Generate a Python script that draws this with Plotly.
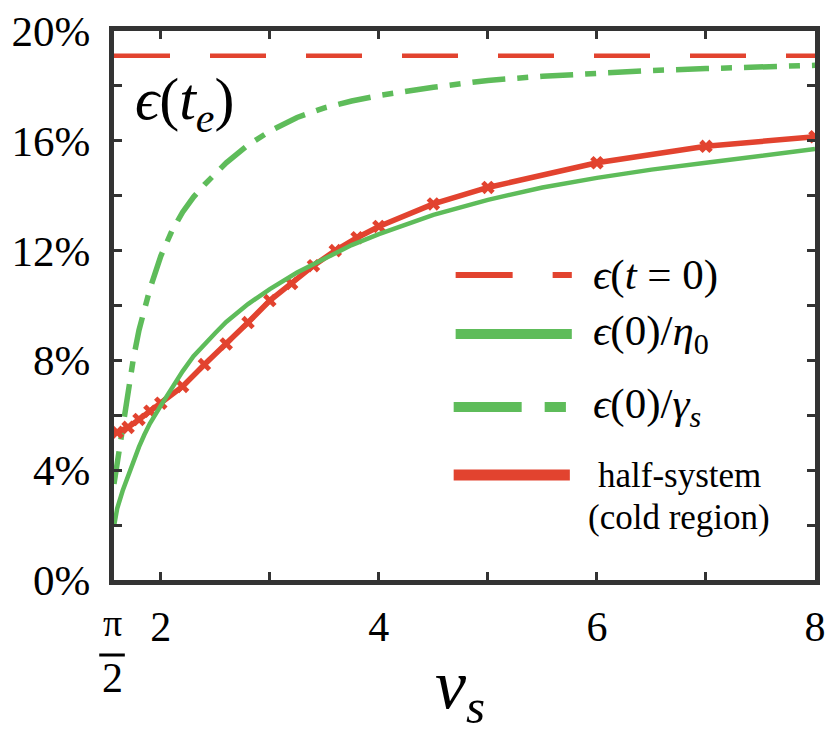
import math
import plotly.graph_objects as go

# ---------------- data ----------------
V_MIN = math.pi / 2
V_MAX = 8.0

eps_t0 = 19.1  # epsilon(t=0), percent

v_eta = [V_MIN, 1.6, 1.65, 1.7, 1.75, 1.8, 1.85, 1.9, 2.0, 2.1, 2.2, 2.3, 2.4, 2.5, 2.6, 2.8,
         3.0, 3.25, 3.5, 3.75, 4.0, 4.5, 5.0, 5.5, 6.0, 6.5, 7.0, 7.5, 8.0]
eps_eta = [1.95, 2.6, 3.25, 3.8, 4.35, 4.85, 5.3, 5.7, 6.35, 7.0, 7.6, 8.15, 8.6, 9.0, 9.4,
           10.05, 10.6, 11.2, 11.7, 12.2, 12.6, 13.3, 13.85, 14.3, 14.65, 14.95, 15.2, 15.45,
           15.7]

v_gam = [V_MIN, 1.6, 1.65, 1.7, 1.75, 1.8, 1.85, 1.9, 2.0, 2.1, 2.2, 2.3, 2.4, 2.5, 2.6, 2.8,
         3.0, 3.25, 3.5, 3.75, 4.0, 4.5, 5.0, 5.5, 6.0, 6.5, 7.0, 7.5, 8.0]
eps_gam = [3.5, 4.3, 5.6, 6.9, 8.1, 9.1, 9.9, 10.6, 11.8, 12.7, 13.4, 13.95, 14.4, 14.8, 15.2,
           15.85, 16.35, 16.85, 17.2, 17.45, 17.65, 17.95, 18.2, 18.35, 18.47, 18.56, 18.63,
           18.7, 18.75]

v_half = [1.6, 1.7, 1.8, 1.9, 2.0, 2.2, 2.4, 2.6, 2.8, 3.0, 3.2, 3.4, 3.6, 3.8, 4.0,
          4.5, 5.0, 6.0, 7.0, 8.0]
eps_half = [5.38, 5.56, 5.85, 6.15, 6.44, 7.05, 7.85, 8.6, 9.38, 10.18, 10.8, 11.45, 12.0,
            12.47, 12.88, 13.7, 14.3, 15.2, 15.8, 16.15]

x_tickvals = [2, 3, 4, 5, 6, 7, 8]
x_ticktext = ["2", " ", "4", " ", "6", " ", "8"]
y_tickvals = [0, 2, 4, 6, 8, 10, 12, 14, 16, 18, 20]
y_ticktext = ["0%", " ", "4%", " ", "8%", " ", "12%", " ", "16%", " ", "20%"]

legend_labels = [
    "<i>ϵ</i>(<i>t</i> = 0)",
    "<i>ϵ</i>(0)/<i>η</i><sub>0</sub>",
    "<i>ϵ</i>(0)/<i>γ</i><sub><i>s</i></sub>",
]

# ---------------- style ----------------
RED = "#E2432F"
GREEN = "#5EBC5A"
AX = "#333333"
SERIF = "Times New Roman"

W, H = 833, 733
L, R, T, B = 114, 7, 31, 153
PW = W - L - R
PH = H - T - B


def px(xp):
    return (xp - L) / PW


def py(yp):
    return (H - B - yp) / PH


fig = go.Figure()

fig.add_trace(go.Scatter(x=[V_MIN, V_MAX], y=[eps_t0, eps_t0], mode="lines",
                         line=dict(color=RED, width=4.5, dash="56,40"),
                         showlegend=False))
fig.add_trace(go.Scatter(x=v_gam, y=eps_gam, mode="lines",
                         line=dict(color=GREEN, width=5.5, dash="33,12,11,12"),
                         showlegend=False))
fig.add_trace(go.Scatter(x=v_half, y=eps_half, mode="lines+markers",
                         line=dict(color=RED, width=5.5),
                         marker=dict(symbol="x", size=12, color=RED),
                         showlegend=False))
fig.add_trace(go.Scatter(x=v_eta, y=eps_eta, mode="lines",
                         line=dict(color=GREEN, width=4.5),
                         showlegend=False))

fig.update_xaxes(range=[V_MIN, V_MAX], tickvals=x_tickvals, ticktext=x_ticktext,
                 ticklabelstandoff=6,
                 showgrid=False, zeroline=False, showline=True, linecolor=AX, linewidth=5,
                 mirror="ticks", ticks="inside", ticklen=8, tickwidth=3, tickcolor=AX,
                 tickfont=dict(family=SERIF, size=42, color="black"))
fig.update_yaxes(range=[0, 20], tickvals=y_tickvals, ticktext=y_ticktext,
                 ticklabelstandoff=10,
                 showgrid=False, zeroline=False, showline=True, linecolor=AX, linewidth=5,
                 mirror="ticks", ticks="inside", ticklen=8, tickwidth=3, tickcolor=AX,
                 tickfont=dict(family=SERIF, size=43, color="black"))

# pi/2 stacked fraction tick label
fig.add_annotation(xref="paper", yref="paper", x=px(112), y=py(623), text="π",
                   showarrow=False, font=dict(family=SERIF, size=38, color="black"),
                   xanchor="center", yanchor="middle")
fig.add_shape(type="line", xref="paper", yref="paper", x0=px(99), x1=px(125),
              y0=py(655), y1=py(655), line=dict(color="black", width=3))
fig.add_annotation(xref="paper", yref="paper", x=px(112), y=py(678), text="2",
                   showarrow=False, font=dict(family=SERIF, size=42, color="black"),
                   xanchor="center", yanchor="middle")

# axis title
fig.add_annotation(xref="paper", yref="paper", x=px(465), y=py(690),
                   text="<i>v</i><sub><i>s</i></sub>", showarrow=False,
                   font=dict(family=SERIF, size=70, color="black"),
                   xanchor="center", yanchor="middle")

# epsilon(t_e) label
fig.add_annotation(xref="paper", yref="paper", x=px(133), y=py(103),
                   text="<i>ϵ</i>(<i>t</i><sub><i>e</i></sub>)", showarrow=False,
                   font=dict(family=SERIF, size=60, color="black"),
                   xanchor="left", yanchor="middle")

# manual legend
rows = [275, 334, 407, 475]
sx0, sx1 = 461, 579
fig.add_shape(type="line", xref="paper", yref="paper", x0=px(sx0), x1=px(sx1),
              y0=py(rows[0]), y1=py(rows[0]),
              line=dict(color=RED, width=6, dash="57px,40px"))
fig.add_shape(type="line", xref="paper", yref="paper", x0=px(sx0), x1=px(sx1),
              y0=py(rows[1]), y1=py(rows[1]), line=dict(color=GREEN, width=10))
fig.add_shape(type="line", xref="paper", yref="paper", x0=px(sx0 - 2), x1=px(sx1 - 6),
              y0=py(rows[2]), y1=py(rows[2]),
              line=dict(color=GREEN, width=10, dash="68px,23px,23px,23px"))
fig.add_shape(type="line", xref="paper", yref="paper", x0=px(sx0 - 2), x1=px(sx1 - 2),
              y0=py(rows[3]), y1=py(rows[3]), line=dict(color=RED, width=11))

for lbl, yr in zip(legend_labels, rows[:3]):
    fig.add_annotation(xref="paper", yref="paper", x=px(598), y=py(yr),
                       text=lbl, showarrow=False,
                       font=dict(family=SERIF, size=43, color="black"),
                       xanchor="left", yanchor="middle")
fig.add_annotation(xref="paper", yref="paper", x=px(688), y=py(475),
                   text="half-system", showarrow=False,
                   font=dict(family=SERIF, size=35, color="black"),
                   xanchor="center", yanchor="middle")
fig.add_annotation(xref="paper", yref="paper", x=px(688), y=py(517),
                   text="(cold region)", showarrow=False,
                   font=dict(family=SERIF, size=35, color="black"),
                   xanchor="center", yanchor="middle")

fig.update_layout(
    width=W, height=H,
    margin=dict(l=L, r=R, t=T, b=B, pad=0),
    plot_bgcolor="white",
    font=dict(family=SERIF, color="black"),
    showlegend=False,
)

fig.write_html("out.html")
